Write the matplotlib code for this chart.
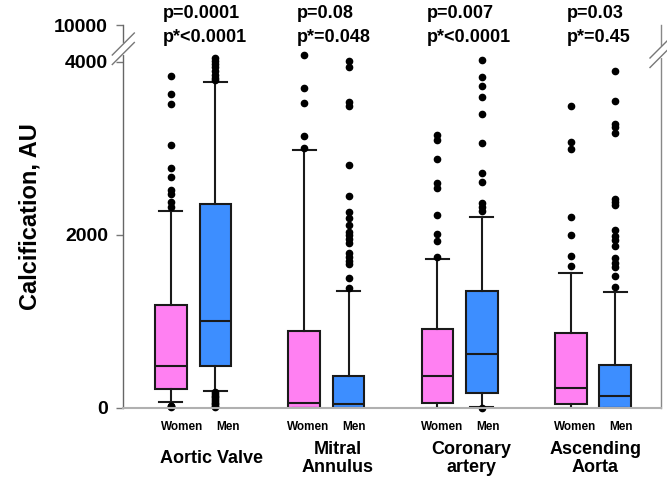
import numpy as np
import matplotlib
matplotlib.use("Agg")
import matplotlib.pyplot as plt
from matplotlib.lines import Line2D
from matplotlib import transforms

plt.rcParams['font.family'] = ['Liberation Sans', 'DejaVu Sans']
plt.rcParams['font.weight'] = 'bold'

# ---------------- data ----------------
groups = ["Aortic Valve", "Mitral\nAnnulus", "Coronary\nartery", "Ascending\nAorta"]
sexes = ["Women", "Men"]
p_values = ["p=0.0001", "p=0.08", "p=0.007", "p=0.03"]
p_star = ["p*<0.0001", "p*=0.048", "p*<0.0001", "p*=0.45"]

# box statistics per group: [Women, Men]
whislo = [[66, 197], [0, 0], [0, 8], [0, 0]]
q1 = [[216, 486], [0, 0], [51, 166], [43, 0]]
med = [[482, 1006], [58, 43], [370, 624], [228, 135]]
q3 = [[1187, 2355], [887, 366], [910, 1353], [860, 494]]
whishi = [[2277, 3762], [2983, 1353], [1715, 2208], [1556, 1337]]
fliers = [
    [[3834, 3630, 3507, 3033, 2767, 2663, 2516, 2470, 2381, 2323, 5, 15, 25],
     [4043, 4008, 3973, 3939, 3892, 3846, 3811, 3788,
      180, 160, 140, 120, 100, 80, 60, 40, 20, 5]],
    [[4077, 3699, 3519, 3137, 2998],
     [4011, 3942, 3530, 3491, 2809, 2447, 2262, 2197, 2110, 2035, 1996, 1947,
      1907, 1785, 1746, 1699, 1661, 1496, 1387]],
    [[3152, 3095, 2878, 2601, 2536, 2228, 2008, 1931, 1746],
     [4019, 3826, 3719, 3595, 3395, 3063, 2717, 2606, 2363, 2324, 2277, 0]],
    [[3491, 3068, 2994, 2208, 2000, 1754, 1640],
     [3892, 3549, 3280, 3241, 3172, 2413, 2381, 2343, 2054, 1985, 1938, 1869,
      1730, 1673, 1622, 1522, 1392]],
]
y_ticks = [0, 2000, 4000, 10000]
y_ticklabels = ["0", "2000", "4000", "10000"]

colors = ["#FF80F2", "#3D8EFF"]

# ---------------- figure ----------------
W, H = 667, 479
fig = plt.figure(figsize=(W / 100, H / 100), dpi=100)
ax = fig.add_axes([123.3 / W, 1 - 407.7 / H, (661 - 123.3) / W, (407.7 - 25) / H])

# broken y scale: linear to 4100, compressed above
B = 4100.0
K = (4424.0 - B) / (10000.0 - B)


def fwd(y):
    y = np.asarray(y, dtype=float)
    return np.where(y <= B, y, B + (y - B) * K)


def inv(z):
    z = np.asarray(z, dtype=float)
    return np.where(z <= B, z, B + (z - B) / K)


ax.set_yscale('function', functions=(fwd, inv))

for s in range(2):
    stats = []
    pos = []
    for g in range(4):
        stats.append(dict(whislo=whislo[g][s], q1=q1[g][s], med=med[g][s],
                          q3=q3[g][s], whishi=whishi[g][s], fliers=fliers[g][s]))
        pos.append(3 * g + 1 + s)
    arts = ax.bxp(stats, positions=pos, widths=0.71, capwidths=0.52,
                  patch_artist=True, showfliers=True,
                  boxprops=dict(facecolor=colors[s], edgecolor='#1a1a1a', linewidth=1.5),
                  medianprops=dict(color='#1a1a1a', linewidth=1.5),
                  whiskerprops=dict(color='#1a1a1a', linewidth=1.5),
                  capprops=dict(color='#1a1a1a', linewidth=1.5),
                  flierprops=dict(marker='o', markerfacecolor='black',
                                  markeredgecolor='black', markersize=4.5))
    for fl in arts['fliers']:
        fl.set_clip_on(False)

ax.set_xlim(-0.07, 12.03)
ax.set_ylim(0, 10000)
ax.set_yticks(y_ticks)
ax.set_yticklabels(y_ticklabels, fontsize=14, fontweight='bold')
ax.minorticks_off()
ax.set_xticks([])
ax.tick_params(axis='y', direction='out', length=5, width=1, color='#777777', pad=6)

ax.spines['top'].set_visible(False)
ax.spines['left'].set_color('#666666')
ax.spines['left'].set_linewidth(1.0)
ax.spines['right'].set_color('#888888')
ax.spines['right'].set_linewidth(1.0)
ax.spines['bottom'].set_color('#b0b0b0')
ax.spines['bottom'].set_linewidth(1.5)

ax.set_ylabel("Calcification, AU", fontsize=17, fontweight='bold', labelpad=9)

# labels under boxes and group names
tr = transforms.blended_transform_factory(ax.transData, fig.transFigure)
sex_x = [[1.258, 2.29], [4.10, 5.13], [7.10, 8.13], [10.10, 11.12]]
grp_x = [1.92, 4.75, 7.76, 10.55]
p_x = [0.82, 3.83, 6.75, 9.90]
for g in range(4):
    for s in range(2):
        ax.text(sex_x[g][s], 1 - 426.7 / H, sexes[s], transform=tr, ha='center',
                va='center', fontsize=8.5, fontweight='bold')
    ax.text(grp_x[g], 1 - 458.3 / H, groups[g], transform=tr, ha='center',
            va='center', fontsize=13, fontweight='bold', linespacing=1.1)
    ax.text(p_x[g], 1 - 14 / H, p_values[g], transform=tr, ha='left',
            va='center', fontsize=13, fontweight='bold')
    ax.text(p_x[g], 1 - 38 / H, p_star[g], transform=tr, ha='left',
            va='center', fontsize=13, fontweight='bold')

# axis break marks
def fx(px):
    return px / W


def fy(py):
    return 1 - py / H


for xa, ys in [(123.3, (44.0, 53.5)), (661.0, (47.0, 56.5))]:
    # gap in the spine
    fig.add_artist(Line2D([fx(xa), fx(xa)], [fy(ys[0] + 1), fy(ys[1] - 1)],
                          color='white', linewidth=3, zorder=5))
    for yc in ys:
        fig.add_artist(Line2D([fx(xa - 11), fx(xa + 11)], [fy(yc + 11), fy(yc - 11)],
                              color='#777777', linewidth=1.0, zorder=6))

fig.savefig("out.png", dpi=100)
